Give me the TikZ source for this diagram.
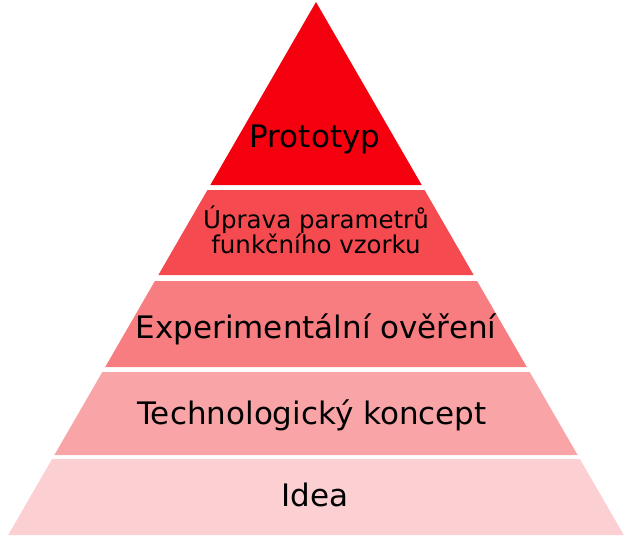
\documentclass[tikz,border=0pt]{standalone}
\usepackage{fontspec}
\setmainfont{DejaVu Sans}
\usetikzlibrary{positioning}
\definecolor{levelA}{RGB}{245,0,15}
\definecolor{levelB}{RGB}{245,75,80}
\definecolor{levelC}{RGB}{247,125,128}
\definecolor{levelD}{RGB}{249,165,168}
\definecolor{levelE}{RGB}{252,207,210}
\tikzset{
  level text/.style={font=\fontsize{31}{31}\selectfont, anchor=base, inner sep=0pt},
  small text/.style={font=\fontsize{24.5}{25}\selectfont, align=center, anchor=base, inner sep=0pt}
}

\begin{document}
\begin{tikzpicture}[x=1pt, y=-1pt]
    \useasboundingbox (0,0) rectangle (631,539);
    % pyramid bands, top and bottom edge
    \foreach \yt/\yb/\col in {2/185/levelA, 190/275/levelB, 281/367/levelC, 372/455/levelD, 459/535/levelE}{
        \pgfmathsetmacro\wt{(\yt-2)*0.5775}
        \pgfmathsetmacro\wb{(\yb-2)*0.5775}
        \fill[\col] (316-\wt,\yt) -- (316+\wt,\yt) -- (316+\wb,\yb) -- (316-\wb,\yb) -- cycle;
    }
    \node (prototyp)[level text] at (315,147) {Prototyp};
    \node (uprava)[small text] at (316,253) {Úprava parametrů\\funkčního vzorku};
    \node (overeni)[level text] at (316,338) {Experimentální ověření};
    \node (koncept)[level text] at (312,424) {Technologický koncept};
    \node (idea)[level text] at (315,506) {Idea};
\end{tikzpicture}
\end{document}
